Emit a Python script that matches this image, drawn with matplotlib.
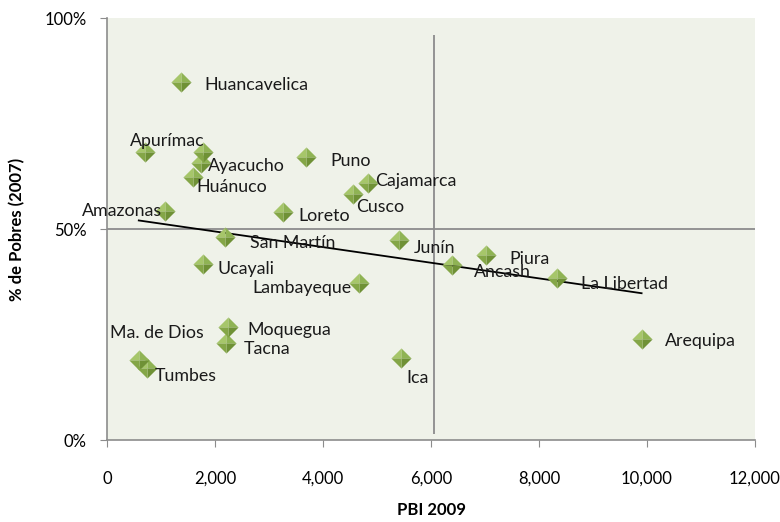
"PBI vs pobreza por region"

import numpy as np
import matplotlib
matplotlib.use('Agg')
import matplotlib.pyplot as plt

plt.rcParams['font.family'] = ['Lato', 'DejaVu Sans']

#DATA
regiones = ['Huancavelica', 'Apurímac', 'Ayacucho', 'Ayacucho_2', 'Huánuco', 'Amazonas',
            'San Martín', 'Puno', 'Loreto', 'Cajamarca', 'Cusco', 'Junín', 'Lambayeque',
            'Ucayali', 'Ancash', 'Piura', 'La Libertad', 'Arequipa', 'Moquegua', 'Tacna',
            'Ma. de Dios', 'Tumbes', 'Ica']
pbi = [1360, 690, 1770, 1730, 1580, 1060, 2180, 3680, 3250, 4820, 4560, 5400, 4660,
       1770, 6380, 7010, 8340, 9900, 2230, 2190, 580, 730, 5440]
pobres = [84.8, 68.2, 68.2, 65.6, 62.3, 54.3, 48.1, 67.1, 54.0, 60.9, 58.3, 47.4, 37.2,
          41.7, 41.5, 43.8, 38.4, 23.9, 26.8, 23.0, 19.0, 17.1, 19.4]
etiquetas = ['Huancavelica', 'Apurímac', '', 'Ayacucho', 'Huánuco', 'Amazonas',
             'San Martín', 'Puno', 'Loreto', 'Cajamarca', 'Cusco', 'Junín', 'Lambayeque',
             'Ucayali', 'Ancash', 'Piura', 'La Libertad', 'Arequipa', 'Moquegua', 'Tacna',
             'Ma. de Dios', 'Tumbes', 'Ica']
# label offsets in pixels (dx, dy) and alignment
offs = [(24, -3, 'left'), (-15, 11, 'left'), (0, 0, 'left'), (7, -3, 'left'), (4, -10, 'left'),
        (-3, 0, 'right'), (25, -6, 'left'), (24, -4, 'left'), (16, -4, 'left'), (8, 2, 'left'),
        (3, -13, 'left'), (15, -8, 'left'), (-7, -5, 'right'), (15, -5, 'left'), (22, -7, 'left'),
        (24, -4, 'left'), (24, -6, 'left'), (23, -2, 'left'), (20, -3, 'left'), (18, -6, 'left'),
        (18, 27, 'center'), (8, -8, 'left'), (5, -20, 'left')]

x_linea_v = 6060
x_ticks = np.arange(0, 12001, 2000)
y_ticks = [0, 50, 100]

#TRENDLINE
pbi_a = np.array(pbi); pob_a = np.array(pobres)
m, b = np.polyfit(pbi_a, pob_a, 1)
xt = np.array([pbi_a.min(), pbi_a.max()])

#PLOTTING
fig = plt.figure(figsize=(7.8, 5.22), dpi=100)
ax = fig.add_axes([0.1378, 0.157, 0.830, 0.8085])
ax.set_facecolor('#eff2e9')
ax.set_xlim(0, 12000); ax.set_ylim(0, 100)

ax.axhline(50, color='#8c8c8c', lw=1.3, zorder=1)
ax.vlines(x_linea_v, 1.5, 96, color='#8c8c8c', lw=1.3, zorder=1)
ax.plot(xt, m*xt+b, color='k', lw=1.3, zorder=2)

# pyramid-like diamond markers drawn as four facets
facets = [([(0, 0), (-1, 0), (0, 1), (0, 0)], '#a6c66a'),
          ([(0, 0), (0, 1), (1, 0), (0, 0)], '#8fb354'),
          ([(0, 0), (1, 0), (0, -1), (0, 0)], '#6f9136'),
          ([(0, 0), (0, -1), (-1, 0), (0, 0)], '#84a647')]
for verts, col in facets:
    ax.scatter(pbi, pobres, marker=verts, s=14.5**2, color=col, linewidths=0, zorder=3)

for x, y, t, (dx, dy, ha) in zip(pbi, pobres, etiquetas, offs):
    if t:
        ax.annotate(t, (x, y), xytext=(dx, dy), textcoords='offset pixels',
                    ha=ha, va='center', fontsize=12.8, color='#1a1a1a', zorder=4)

ax.set_xticks(x_ticks)
ax.set_xticklabels(['{:,}'.format(v) for v in x_ticks])
ax.set_yticks(y_ticks)
ax.set_yticklabels(['{}%'.format(v) for v in y_ticks])
for s in ['top', 'right']:
    ax.spines[s].set_visible(False)
for s in ['left', 'bottom']:
    ax.spines[s].set_color('#8c8c8c'); ax.spines[s].set_linewidth(1.2)
ax.tick_params(axis='x', direction='out', length=5, color='#8c8c8c', pad=17, labelsize=12)
ax.tick_params(axis='y', direction='out', length=5, color='#8c8c8c', pad=10, labelsize=12)
ax.set_xlabel('PBI 2009', fontsize=12, fontweight='bold', labelpad=11)
ax.set_ylabel('% de Pobres (2007)', fontsize=12, fontweight='bold', labelpad=14)

fig.savefig('out.png', dpi=100)
